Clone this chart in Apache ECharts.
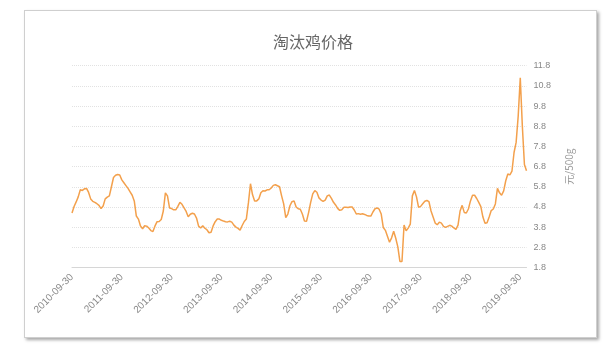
<!DOCTYPE html>
<html>
<head>
<meta charset="utf-8">
<title>淘汰鸡价格</title>
<script src="https://cdn.jsdelivr.net/npm/echarts@6/dist/echarts.min.js"></script>
<style>
  html, body { margin: 0; padding: 0; background: #fff; }
  #card {
    position: absolute; left: 24px; top: 10px; width: 571px; height: 326px;
    border: 1px solid #cfcfcf; box-shadow: 2px 2px 3px rgba(0, 0, 0, 0.35); background: #fff;
  }
  #chart { position: absolute; left: 0; top: 0; width: 607px; height: 353px; }
</style>
</head>
<body>
<div id="card"></div>
<div id="chart"></div>
<script>
  const title = "淘汰鸡价格";
  const unit = "元/500g";

  // half-monthly dates: 15th and month end, starting 2010-09-30
  const dates = ["2010-09-30"];
  for (let y = 2010, m = 10; dates.length < 220; m++) {
    if (m > 12) { m = 1; y++; }
    const mm = String(m).padStart(2, "0");
    const last = new Date(Date.UTC(y, m, 0)).getUTCDate();
    dates.push(`${y}-${mm}-15`);
    if (dates.length < 220) dates.push(`${y}-${mm}-${last}`);
  }

  // 元/500g
  const prices = [
    4.5, 4.82, 5.05, 5.3, 5.65, 5.62, 5.7, 5.72, 5.52, 5.2,
    5.08, 5.03, 4.96, 4.88, 4.72, 4.85, 5.2, 5.29, 5.35, 5.8,
    6.26, 6.37, 6.41, 6.38, 6.14, 6.0, 5.86, 5.72, 5.55, 5.38,
    5.1, 4.35, 4.2, 3.86, 3.72, 3.87, 3.85, 3.76, 3.63, 3.58,
    3.86, 4.07, 4.08, 4.18, 4.6, 5.5, 5.35, 4.75, 4.72, 4.66,
    4.66, 4.83, 5.03, 4.93, 4.76, 4.58, 4.31, 4.44, 4.49, 4.45,
    4.25, 3.85, 3.76, 3.87, 3.75, 3.67, 3.52, 3.55, 3.86, 4.07,
    4.2, 4.2, 4.14, 4.1, 4.07, 4.06, 4.09, 4.05, 3.9, 3.8,
    3.74, 3.65, 3.88, 4.08, 4.2, 5.0, 5.95, 5.4, 5.1, 5.1,
    5.2, 5.5, 5.6, 5.59, 5.65, 5.65, 5.74, 5.87, 5.9, 5.85,
    5.8, 5.35, 4.95, 4.27, 4.45, 4.86, 5.06, 5.1, 4.8, 4.71,
    4.69, 4.45, 4.1, 4.09, 4.52, 5.03, 5.45, 5.61, 5.53, 5.25,
    5.14, 5.08, 5.14, 5.35, 5.39, 5.23, 5.03, 4.9, 4.73, 4.63,
    4.66, 4.78, 4.79, 4.77, 4.8, 4.8, 4.65, 4.45, 4.47, 4.44,
    4.46, 4.43, 4.38, 4.35, 4.35, 4.55, 4.71, 4.75, 4.69, 4.45,
    3.78, 3.64, 3.35, 3.05, 3.27, 3.6, 3.25, 2.82, 2.1, 2.1,
    3.9, 3.62, 3.75, 3.95, 5.35, 5.62, 5.3, 4.78, 4.83, 4.96,
    5.08, 5.12, 5.06, 4.6, 4.3, 4.0, 3.92, 4.05, 4.0, 3.84,
    3.79, 3.84, 3.89, 3.85, 3.76, 3.69, 3.9, 4.6, 4.88, 4.53,
    4.5, 4.7, 5.1, 5.38, 5.38, 5.22, 5.03, 4.82, 4.3, 3.99,
    4.02, 4.3, 4.62, 4.7, 4.95, 5.72, 5.5, 5.38, 5.6, 6.1,
    6.43, 6.39, 6.58, 7.5, 8.0, 9.3, 11.2, 8.8, 6.9, 6.6
  ];

  const chart = echarts.init(document.getElementById("chart"));
  chart.setOption({
    backgroundColor: "transparent",
    animation: false,
    title: {
      text: title,
      left: 273,
      top: 34,
      padding: 0,
      textStyle: { fontFamily: "Noto Sans CJK SC", fontSize: 16, fontWeight: "normal", color: "#666" },
    },
    grid: { left: 72, right: 80.5, top: 65.7, bottom: 85.5 },
    xAxis: {
      type: "category",
      data: dates,
      boundaryGap: false,
      axisLine: { lineStyle: { color: "#d6d6d6" } },
      axisTick: { show: false },
      axisLabel: {
        interval: (i, v) => v.endsWith("-09-30"),
        rotate: 45,
        margin: 8,
        fontSize: 10,
        fontFamily: "Liberation Sans",
        color: "#888",
      },
      splitLine: { show: false },
    },
    yAxis: {
      type: "value",
      position: "right",
      min: 1.8,
      max: 11.8,
      interval: 1,
      name: unit,
      nameLocation: "middle",
      nameGap: 38,
      nameTextStyle: { fontSize: 10, color: "#999", fontFamily: "Noto Sans CJK SC" },
      axisLine: { show: false },
      axisTick: { show: false },
      axisLabel: {
        margin: 7,
        fontSize: 9,
        fontFamily: "Liberation Sans",
        color: "#888",
        formatter: (v) => v.toFixed(1),
      },
      splitLine: { lineStyle: { color: "#e2e2e2", type: "dotted" } },
    },
    series: [
      {
        type: "line",
        data: prices,
        symbol: "none",
        lineStyle: { color: "#f3a04c", width: 1.5 },
      },
    ],
  });
</script>
</body>
</html>
